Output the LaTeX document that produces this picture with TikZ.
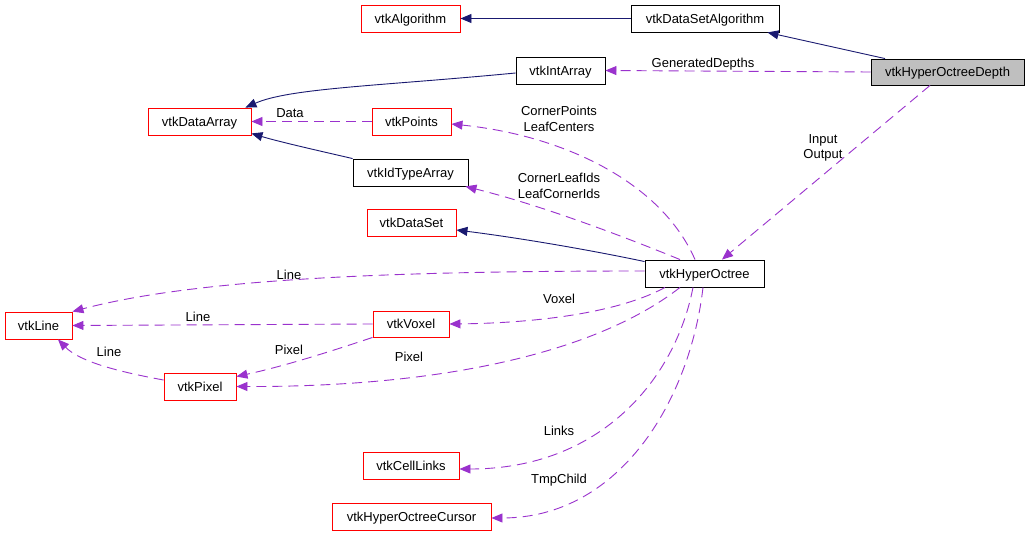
\documentclass[tikz,border=0pt]{standalone}
\usepackage{fontspec}
\setmainfont{Liberation Sans}
\usetikzlibrary{arrows.meta}
\definecolor{navyc}{HTML}{191970}
\definecolor{orch}{HTML}{9A32CD}
\definecolor{grayfill}{HTML}{BFBFBF}
\begin{document}
\begin{tikzpicture}[x=1pt,y=-1pt,
  txt/.style={font=\fontsize{13}{15}\selectfont,text height=12pt,text depth=2.6pt},
  box/.style={txt,draw=black,line width=0.9pt,inner sep=0pt,minimum height=27pt},
  redbox/.style={box,draw=red},
  inh/.style={draw=navyc,line width=0.9pt,-{Triangle[length=11pt,width=9pt]}},
  use/.style={draw=orch,line width=0.9pt,dash pattern=on 10pt off 6pt,-{Triangle[length=11pt,width=9pt]}},
  lbl/.style={txt,inner sep=0pt}]
\useasboundingbox[fill=white] (0,0) rectangle (1029,545);

% nodes
\node[redbox,minimum width=99pt] (alg) at (410.5,18.5) {vtkAlgorithm};
\node[box,minimum width=148pt] (dsa) at (705,18.5) {vtkDataSetAlgorithm};
\node[box,fill=grayfill,minimum width=153pt,minimum height=26pt] (dep) at (947.5,72) {vtkHyperOctreeDepth};
\node[box,minimum width=89pt] (ia) at (560.5,70.5) {vtkIntArray};
\node[redbox,minimum width=103pt] (da) at (199.5,121.5) {vtkDataArray};
\node[redbox,minimum width=79pt] (pts) at (411.5,121.5) {vtkPoints};
\node[box,minimum width=115pt] (ida) at (410.5,172.5) {vtkIdTypeArray};
\node[redbox,minimum width=89pt] (ds) at (411.5,222.5) {vtkDataSet};
\node[box,minimum width=119pt] (ho) at (704.5,273.5) {vtkHyperOctree};
\node[redbox,minimum width=67pt] (line) at (38.5,325.5) {vtkLine};
\node[redbox,minimum width=76pt,minimum height=26pt] (vox) at (411,324) {vtkVoxel};
\node[redbox,minimum width=72pt] (pix) at (200,386.5) {vtkPixel};
\node[redbox,minimum width=96pt] (cl) at (411,465.5) {vtkCellLinks};
\node[redbox,minimum width=159pt] (cur) at (411.5,516.5) {vtkHyperOctreeCursor};

% inheritance
\draw[inh] (dsa.west) -- (alg.east);
\draw[inh] ([xshift=-62.5pt]dep.north) -- ([xshift=-12pt]dsa.south east);
\draw[inh] ([yshift=-2.5pt]ia.west) .. controls (380,86) and (290,88) .. ([xshift=-6pt]da.north east);
\draw[inh] (ida.north west) .. controls (320,151) and (280,142) .. ([yshift=2pt]da.south east);
\draw[inh] ([yshift=-2pt]ho.north west) .. controls (590,250) and (520,238) .. ([yshift=-7.5pt]ds.east);

% usage
\draw[use] (dep.west) -- (ia.east);
\draw[use] ([xshift=-17.5pt]dep.south) -- ([xshift=17.5pt]ho.north);
\draw[use] (pts.west) -- (da.east);
\draw[use] ([xshift=-9.5pt]ho.north) .. controls (660,180) and (560,135) .. ([yshift=-2.5pt]pts.east);
\draw[use] ([xshift=-24.5pt]ho.north) .. controls (620,235) and (540,205) .. ([xshift=-3pt]ida.south east);
\draw[use] ([yshift=2.5pt]ho.west) .. controls (400,271) and (200,278) .. (line.north east);
\draw[use] (vox.west) -- (line.east);
\draw[use] ([yshift=6.5pt]pix.west) .. controls (120,372) and (80,362) .. ([xshift=19.5pt]line.south);
\draw[use] (vox.south west) .. controls (320,355) and (280,367) .. ([yshift=-4pt]pix.north east);
\draw[use] ([xshift=-24.5pt]ho.south) .. controls (600,350) and (450,387) .. (pix.east);
\draw[use] ([xshift=-39.5pt]ho.south) .. controls (620,312) and (540,323) .. (vox.east);
\draw[use] ([xshift=-11.5pt]ho.south) .. controls (675,380) and (600,469) .. ([yshift=-3.5pt]cl.east);
\draw[use] ([xshift=-1.5pt]ho.south) .. controls (690,400) and (620,518) .. ([yshift=-1.5pt]cur.east);

% labels
\node[lbl] (lgd) at (703,63) {GeneratedDepths};
\node[lbl] (lin) at (823,139) {Input};
\node[lbl] (lout) at (823,154) {Output};
\node[lbl] (ldata) at (290,113) {Data};
\node[lbl] (lcp) at (559,111) {CornerPoints};
\node[lbl] (llc) at (559,127) {LeafCenters};
\node[lbl] (lcli) at (559,178) {CornerLeafIds};
\node[lbl] (llci) at (559,194) {LeafCornerIds};
\node[lbl] (lline1) at (289,275) {Line};
\node[lbl] (lline2) at (198,317) {Line};
\node[lbl] (lline3) at (109,352) {Line};
\node[lbl] (lpix1) at (289,350) {Pixel};
\node[lbl] (lpix2) at (409,357) {Pixel};
\node[lbl] (lvox) at (559,299) {Voxel};
\node[lbl] (llinks) at (559,431) {Links};
\node[lbl] (ltmp) at (559,479) {TmpChild};
\end{tikzpicture}
\end{document}
